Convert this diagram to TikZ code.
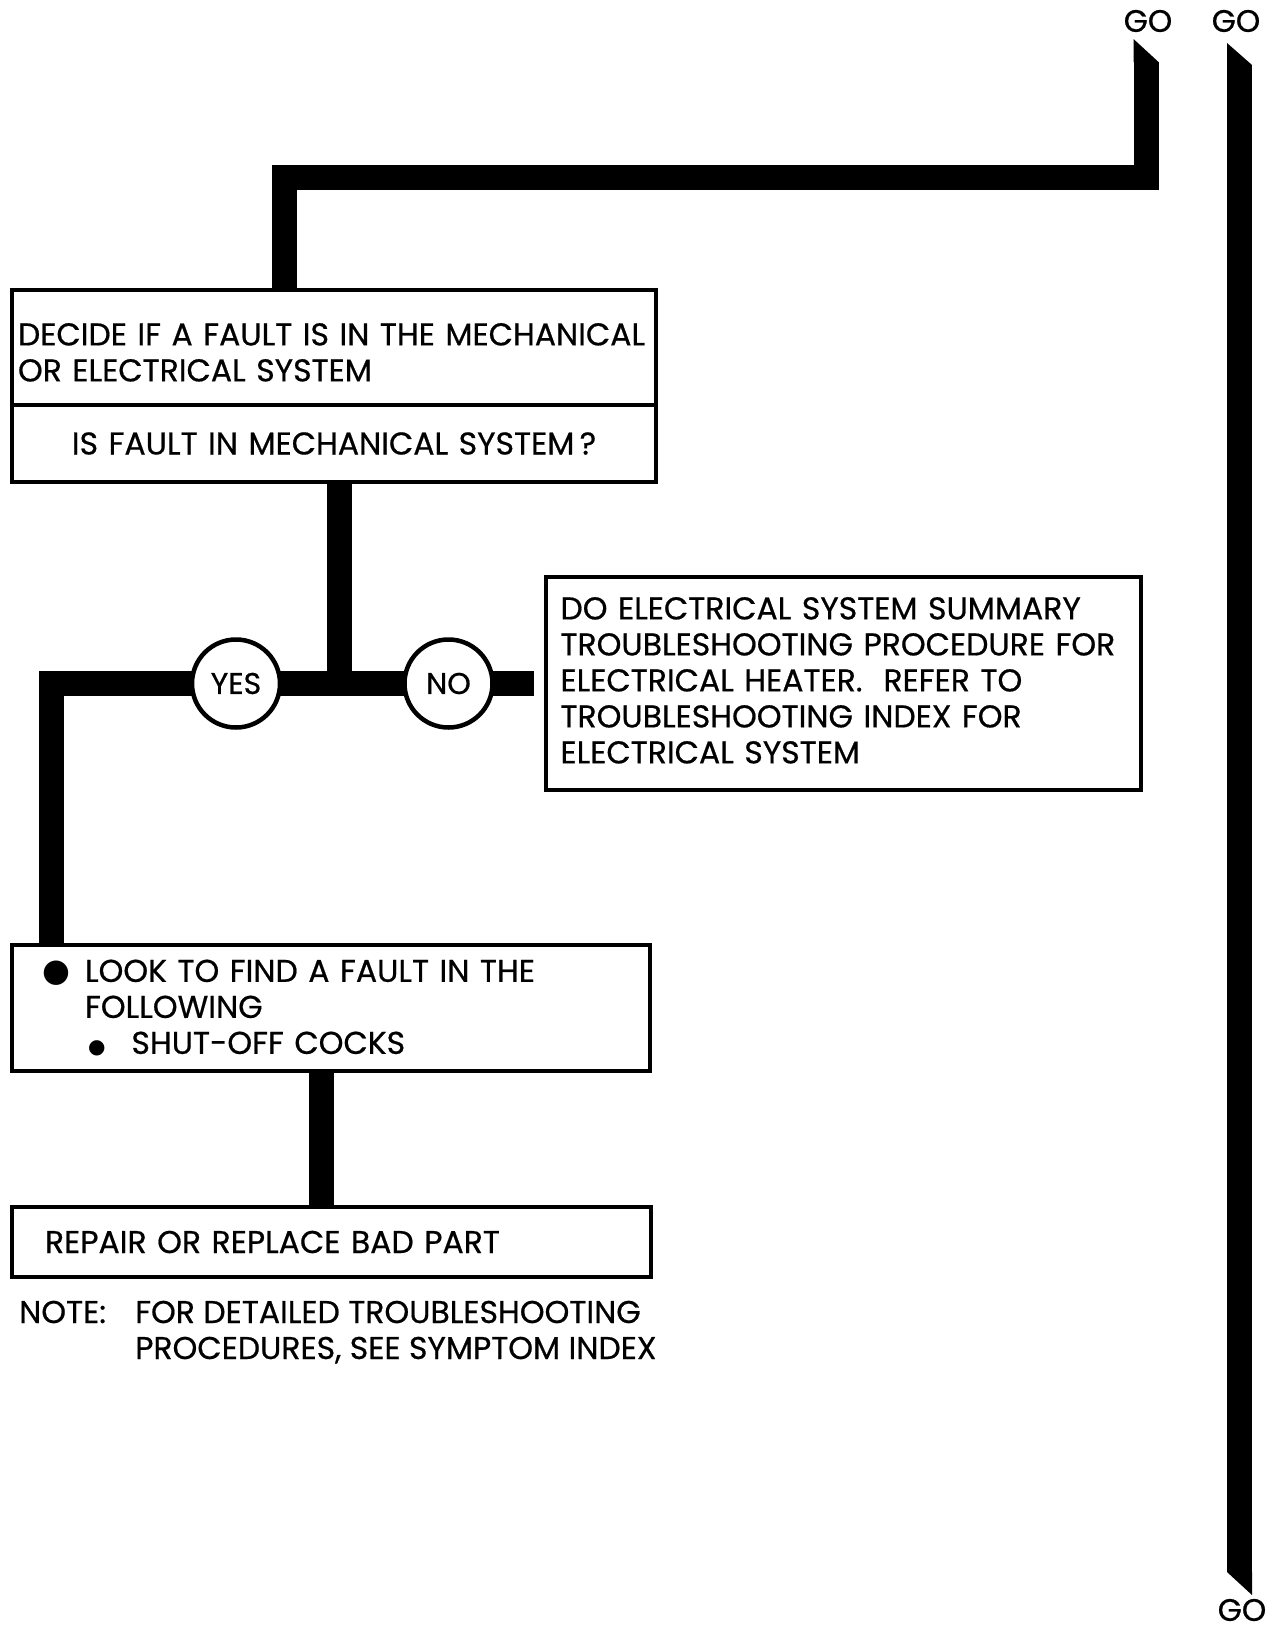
\documentclass[tikz,border=0pt]{standalone}
\usepackage{fontspec}
\setmainfont{Poppins}[FakeBold=0.6]
\newfontfamily\symfont{DejaVu Sans}
\tikzset{
  bar/.style={black, line width=25pt, line join=miter},
  box/.style={draw, black, line width=4pt, outer sep=0pt, inner ysep=0pt, anchor=north west, align=left,
    font=\fontsize{31.5}{36}\selectfont},
  answer/.style={circle, draw, black, line width=4.5pt, fill=white, outer sep=0pt, inner sep=0pt,
    minimum size=88pt, font=\fontsize{30}{32}\selectfont},
  golabel/.style={inner sep=0pt, font=\fontsize{31}{32}\selectfont}
}

\begin{document}
\begin{tikzpicture}[x=1pt,y=-1pt]
  \useasboundingbox (0,0) rectangle (1269,1630);

  \node [golabel] (goA) at (1148,21) {GO};
  \node [golabel] (goB) at (1236,21) {GO};
  \node [golabel] (goC) at (1242,1610) {GO};

  \node [box, minimum width=644pt, minimum height=115pt, inner xsep=6pt, text width=632pt, text height=32pt] (decide) at (12,290)
    {DECIDE IF A FAULT IS IN THE MECHANICAL\\OR ELECTRICAL SYSTEM};
  \node [box, minimum width=644pt, minimum height=77pt, inner xsep=6pt, text width=632pt, align=center] (ask) at (decide.south west)
    {IS FAULT IN MECHANICAL SYSTEM\,?};
  \node [box, minimum width=595pt, minimum height=213pt, inner xsep=15pt, text width=565pt, text height=16pt] (summary) at (545.5,577)
    {DO ELECTRICAL SYSTEM SUMMARY\\TROUBLESHOOTING PROCEDURE FOR\\ELECTRICAL HEATER.\ \ REFER TO\\TROUBLESHOOTING INDEX FOR\\ELECTRICAL SYSTEM};
  \node [box, minimum width=638pt, minimum height=126pt, inner xsep=73pt, text width=492pt] (look) at (12,945)
    {\llap{{\symfont\fontsize{32}{36}\selectfont ●}\hspace{15pt}}LOOK TO FIND A FAULT IN THE\\FOLLOWING\\
     \hspace*{3pt}{\symfont\fontsize{20}{36}\selectfont ●}\hspace{26pt}SHUT-OFF COCKS};
  \node [box, minimum width=639pt, minimum height=70pt, inner xsep=33pt, text width=573pt] (repair) at (12,1207)
    {REPAIR OR REPLACE BAD PART};
  \node [anchor=base west, inner sep=0pt, align=left, font=\fontsize{31.5}{36}\selectfont] (note) at (19,1359)
    {\makebox[116pt][l]{NOTE:}FOR DETAILED TROUBLESHOOTING\\\hspace*{116pt}PROCEDURES, SEE SYMPTOM INDEX};

  \coordinate (tipA) at (1146,62);
  \coordinate (elbowA) at (284.5,177);
  \coordinate (tipB) at (1239.5,65);
  \coordinate (tipC) at (1239.5,1572);
  \coordinate (split) at (339.5,683.5);

  \draw [bar] (tipA) |- (elbowA) -- (elbowA |- decide.north);
  \fill [black] (1133.5,62) -- (1133.5,39) -- (1158.5,62) -- cycle;
  \draw [bar] (tipB) -- (tipC);
  \fill [black] (1227,65) -- (1227,43) -- (1252,65) -- cycle;
  \fill [black] (1227,1572) -- (1252,1572) -- (1252,1595) -- cycle;

  \draw [bar] (split |- ask.south) -- (split);
  \draw [bar] ([xshift=-12pt]summary.west) -| ([xshift=39.5pt]look.north west);
  \draw [bar] ([xshift=-9.5pt]look.south) -- ([xshift=-9.5pt]look.south |- repair.north);

  \node [answer] (yes) at (236,683.5) {YES};
  \node [answer] (no) at (448.5,683.5) {NO};
\end{tikzpicture}
\end{document}
